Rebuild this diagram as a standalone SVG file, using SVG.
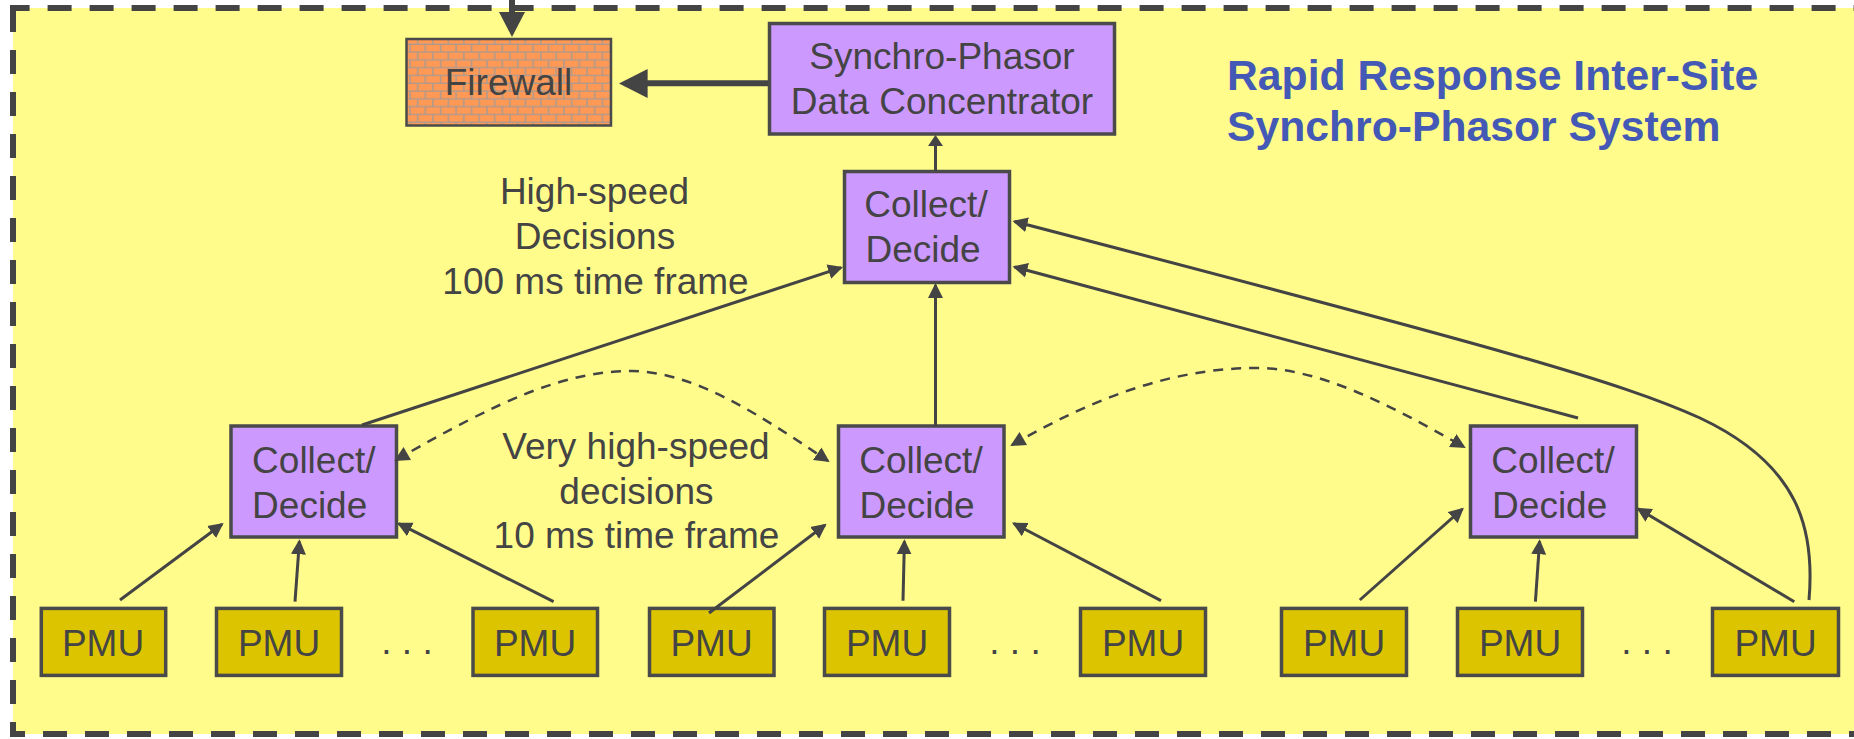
<svg xmlns="http://www.w3.org/2000/svg" width="1854" height="739" viewBox="0 0 1854 739">
<style>
text{font-family:"Liberation Sans",Arial,sans-serif;font-size:37px;fill:#444;text-anchor:middle}
.title{font-weight:bold;font-size:42.7px;fill:#4459b5;text-anchor:start}
.box{stroke:#4a4a4a;stroke-width:3.5}
.cd{fill:#cc99ff}
.pmu{fill:#dcc500}
.frame{fill:none;stroke:#444;stroke-width:6;stroke-dasharray:24 18}
.c{fill:none;stroke:#444;stroke-width:3}
.a{marker-end:url(#h)}
.d{fill:none;stroke:#444;stroke-width:2.5;stroke-dasharray:10 8;marker-start:url(#hs);marker-end:url(#h)}
</style>
<defs>
<marker id="h" markerUnits="userSpaceOnUse" markerWidth="16" markerHeight="16" refX="13" refY="8" orient="auto"><path d="M0 0.5L15 8L0 15.5z" fill="#444"/></marker>
<marker id="hs" markerUnits="userSpaceOnUse" markerWidth="16" markerHeight="16" refX="2" refY="8" orient="auto"><path d="M15 0.5L0 8L15 15.5z" fill="#444"/></marker>
<pattern id="brick" patternUnits="userSpaceOnUse" x="410" y="45" width="15.4" height="15.6">
<rect width="15.4" height="15.6" fill="#b09a8c"/>
<rect x="0.7" y="0" width="13.8" height="6.4" fill="#ff9955"/>
<rect x="8.4" y="7.8" width="13.8" height="6.4" fill="#ff9955"/>
<rect x="-7" y="7.8" width="13.8" height="6.4" fill="#ff9955"/>
</pattern>
</defs>
<rect width="1854" height="739" fill="#fff"/>
<rect x="13" y="8" width="1841" height="726" fill="#fffc8c"/>
<g id="frame">
<path class="frame" d="M10 8H1854" stroke-dashoffset="4.4"/>
<path class="frame" d="M13 8V737"/>
<path class="frame" d="M10 734H1854" stroke-dashoffset="9"/>
</g>
<g id="firewall"><rect x="406.5" y="39" width="204.5" height="86.5" fill="url(#brick)" stroke="#4a4a4a" stroke-width="2.5"/><text x="508.5" y="95">Firewall</text></g>
<g id="concentrator"><rect class="box cd" x="769.5" y="23.5" width="345" height="110.5"/><text x="942" y="69">Synchro-Phasor</text><text x="942" y="114">Data Concentrator</text></g>
<g id="collect-top"><rect class="box cd" x="844.5" y="171.5" width="165" height="111"/><text x="926" y="217">Collect/</text><text x="923" y="262">Decide</text></g>
<g id="collect-left"><rect class="box cd" x="231" y="426" width="165.5" height="111"/><text x="313.8" y="472.7">Collect/</text><text x="309.7" y="517.5">Decide</text></g>
<g id="collect-mid"><rect class="box cd" x="838.5" y="426" width="165.5" height="111"/><text x="921" y="472.7">Collect/</text><text x="917" y="517.5">Decide</text></g>
<g id="collect-right"><rect class="box cd" x="1470.5" y="426" width="166" height="111"/><text x="1553" y="472.7">Collect/</text><text x="1549.7" y="517.5">Decide</text></g>
<g id="pmu1"><rect class="box pmu" x="41.3" y="608.4" width="124.4" height="67"/><text x="103" y="655.7">PMU</text></g>
<g id="pmu2"><rect class="box pmu" x="216.5" y="608.4" width="125" height="67"/><text x="279" y="655.7">PMU</text></g>
<g id="pmu3"><rect class="box pmu" x="473" y="608.4" width="124.5" height="67"/><text x="535" y="655.7">PMU</text></g>
<g id="pmu4"><rect class="box pmu" x="649.5" y="608.4" width="124.5" height="67"/><text x="711.5" y="655.7">PMU</text></g>
<g id="pmu5"><rect class="box pmu" x="824.5" y="608.4" width="125" height="67"/><text x="887" y="655.7">PMU</text></g>
<g id="pmu6"><rect class="box pmu" x="1080.5" y="608.4" width="125" height="67"/><text x="1143" y="655.7">PMU</text></g>
<g id="pmu7"><rect class="box pmu" x="1281.5" y="608.4" width="125" height="67"/><text x="1344" y="655.7">PMU</text></g>
<g id="pmu8"><rect class="box pmu" x="1457.5" y="608.4" width="125" height="67"/><text x="1520" y="655.7">PMU</text></g>
<g id="pmu9"><rect class="box pmu" x="1712.5" y="608.4" width="126" height="67"/><text x="1775.5" y="655.7">PMU</text></g>
<g id="connectors">
<path d="M512 0V14" fill="none" stroke="#444" stroke-width="6"/>
<path d="M499 12H525L512 37z" fill="#444"/>
<path d="M768 83.3H645" fill="none" stroke="#444" stroke-width="6"/>
<path d="M647.6 69V98L619 83.5z" fill="#444"/>
<path class="c" d="M935.5 171V144"/>
<path d="M928 146H943L935.5 135z" fill="#444"/>
<path class="c a" d="M362 425L841.1 267.6"/>
<path class="c a" d="M935.5 426V285"/>
<path class="c a" d="M1578 418L1014.5 267"/>
<path class="c a" d="M1809 600C1815 530 1800 465 1700 418C1620 382 1500 348 1014.5 221.5"/>
<path class="d" d="M396 460C500 400 565 371 632 371C695 372 760 415 828 461"/>
<path class="d" d="M1012 445C1090 400 1170 368 1256 368C1320 368 1390 405 1464 447"/>
<path class="c a" d="M120 600L222 524.2"/>
<path class="c a" d="M295 601.7L299.4 541.3"/>
<path class="c a" d="M553.6 601.7L398.8 523.6"/>
<path class="c a" d="M709 613L825 525"/>
<path class="c a" d="M903 600.7L904.4 541.3"/>
<path class="c a" d="M1161 600.7L1013.8 523.5"/>
<path class="c a" d="M1359.8 600L1462.4 509"/>
<path class="c a" d="M1535.4 601.7L1539.6 541.3"/>
<path class="c a" d="M1794.3 601.7L1638.1 508.7"/>
</g>
<g id="labels">
<text x="407" y="654">. . .</text>
<text x="1015" y="654">. . .</text>
<text x="1647" y="654">. . .</text>
<text x="594.5" y="203.5">High-speed</text>
<text x="595" y="249">Decisions</text>
<text x="595.5" y="294">100 ms time frame</text>
<text x="636" y="459">Very high-speed</text>
<text x="636.5" y="504">decisions</text>
<text x="636.5" y="548">10 ms time frame</text>
<text class="title" x="1227" y="90">Rapid Response Inter-Site</text>
<text class="title" x="1227" y="141">Synchro-Phasor System</text>
</g>
</svg>
